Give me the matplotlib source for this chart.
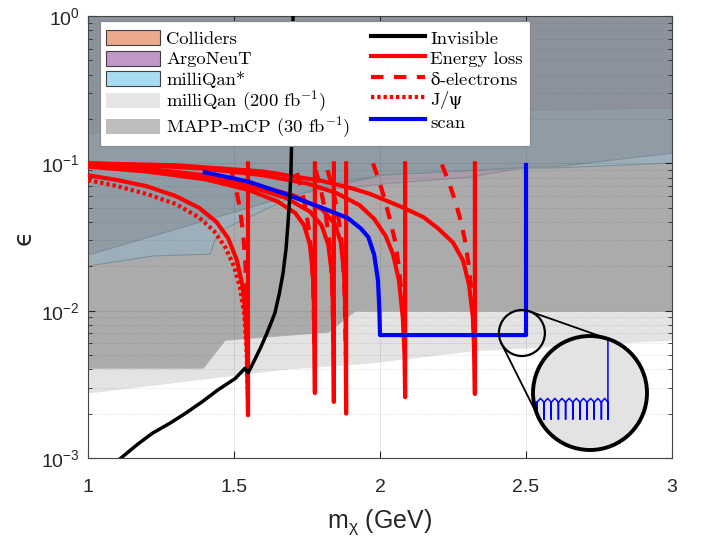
import numpy as np
import matplotlib
matplotlib.use('Agg')
import matplotlib.pyplot as plt
from matplotlib.patches import Patch, Circle, Rectangle
from matplotlib.lines import Line2D
from matplotlib.legend_handler import HandlerPatch
from matplotlib.font_manager import FontProperties

# exclusion regions: lower edge of each shaded region (mass in GeV, epsilon)
top_m = [1.0, 1.384, 2.068, 2.503, 3.0]
top_eps = [0.1606, 0.1737, 0.2030, 0.2301, 0.2374]

coll_m = [1.0, 1.675, 2.010, 2.343, 2.503, 2.593, 3.0]
coll_eps = [0.0239, 0.0590, 0.0833, 0.0901, 0.0944, 0.0944, 0.1174]

mq_m = [1.0, 1.223, 1.418, 1.435, 1.459, 1.675, 1.805, 2.010, 2.343, 2.503, 2.593, 3.0]
mq_eps = [0.0201, 0.0235, 0.0242, 0.0302, 0.0353, 0.0563, 0.0712, 0.0833, 0.0901, 0.0929, 0.0929, 0.1005]

argo_m = [1.0, 1.675, 1.805, 2.010, 2.308, 2.503, 2.593, 3.0]
argo_eps = [0.057, 0.060, 0.0659, 0.0724, 0.0807, 0.0944, 0.0974, 0.1231]

mapp_m = [1.0, 1.394, 1.469, 1.822, 1.914, 3.0]
mapp_eps = [0.00407, 0.00407, 0.00631, 0.00716, 0.00993, 0.0099]

mq200_m = [1.0, 1.675, 1.966, 2.308, 3.0]
mq200_eps = [0.00276, 0.00401, 0.00441, 0.00532, 0.00631]

# invisible
inv_m = [1.113, 1.17, 1.22, 1.28, 1.332, 1.39, 1.445, 1.503, 1.538, 1.548, 1.57, 1.592, 1.615, 1.64,
         1.655, 1.668, 1.678, 1.685, 1.691, 1.695, 1.699, 1.702]
inv_eps = [0.001, 0.00124, 0.00147, 0.00172, 0.002, 0.0024, 0.0029, 0.00345, 0.00407, 0.00377, 0.0046,
           0.00566, 0.0072, 0.00963, 0.013, 0.018, 0.026, 0.0393, 0.06, 0.0859, 0.2, 1.0]

# energy loss (solid)
eloss_m = [
    [1.0, 1.1, 1.2, 1.3, 1.38, 1.44, 1.48, 1.51, 1.53, 1.54, 1.545, 1.548, 1.548],
    [1.0, 1.2, 1.4, 1.55, 1.65, 1.71, 1.74, 1.76, 1.77, 1.775, 1.777, 1.777],
    [1.0, 1.2, 1.4, 1.55, 1.68, 1.76, 1.80, 1.823, 1.835, 1.84, 1.842, 1.842],
    [1.0, 1.2, 1.4, 1.55, 1.7, 1.8, 1.845, 1.866, 1.877, 1.882, 1.884, 1.884],
    [1.0, 1.2, 1.4, 1.6, 1.75, 1.85, 1.93, 1.98, 2.02, 2.045, 2.065, 2.078, 2.084, 2.086, 2.086],
    [1.0, 1.3, 1.6, 1.8, 1.9, 1.966, 2.08, 2.15, 2.2, 2.25, 2.284, 2.305, 2.318, 2.323, 2.325, 2.325],
]
eloss_eps = [
    [0.083, 0.077, 0.070, 0.060, 0.050, 0.040, 0.031, 0.022, 0.0145, 0.009, 0.005, 0.00195, 0.1],
    [0.095, 0.088, 0.078, 0.066, 0.055, 0.046, 0.038, 0.028, 0.018, 0.009, 0.00276, 0.1],
    [0.097, 0.090, 0.080, 0.070, 0.058, 0.047, 0.038, 0.028, 0.018, 0.009, 0.0024, 0.1],
    [0.099, 0.092, 0.083, 0.073, 0.061, 0.049, 0.039, 0.029, 0.018, 0.009, 0.0020, 0.1],
    [0.100, 0.097, 0.092, 0.083, 0.073, 0.063, 0.052, 0.042, 0.032, 0.024, 0.016, 0.009, 0.005, 0.00259, 0.1],
    [0.100, 0.097, 0.088, 0.076, 0.068, 0.062, 0.050, 0.043, 0.036, 0.029, 0.022, 0.015, 0.009, 0.005,
     0.00272, 0.1],
]

# delta electrons (dashed)
delta_m = [
    [1.49, 1.505, 1.52, 1.53, 1.538, 1.543, 1.547],
    [1.716, 1.73, 1.745, 1.757, 1.766, 1.772, 1.776],
    [1.78, 1.795, 1.81, 1.822, 1.831, 1.837, 1.841],
    [1.82, 1.836, 1.852, 1.864, 1.873, 1.879, 1.883],
    [1.976, 1.997, 2.017, 2.035, 2.051, 2.063, 2.074, 2.082],
    [2.212, 2.235, 2.257, 2.276, 2.291, 2.303, 2.314, 2.322],
]
delta_eps = [
    [0.09, 0.07, 0.05, 0.035, 0.023, 0.013, 0.005],
    [0.086, 0.068, 0.05, 0.035, 0.023, 0.013, 0.005],
    [0.09, 0.07, 0.05, 0.035, 0.023, 0.013, 0.005],
    [0.09, 0.07, 0.05, 0.035, 0.023, 0.013, 0.005],
    [0.1, 0.076, 0.056, 0.041, 0.03, 0.021, 0.013, 0.0074],
    [0.098, 0.075, 0.056, 0.041, 0.03, 0.021, 0.013, 0.0074],
]

# J/psi (dotted)
jpsi_m = [1.0, 1.1, 1.2, 1.3, 1.38, 1.43, 1.47, 1.50, 1.52, 1.535, 1.543, 1.548]
jpsi_eps = [0.077, 0.070, 0.062, 0.053, 0.043, 0.035, 0.027, 0.020, 0.0145, 0.0095, 0.0055, 0.0025]

# scan
scan_m = [1.40, 1.55, 1.675, 1.80, 1.89, 1.935, 1.96, 1.98, 1.993, 1.998, 2.0, 2.5, 2.5]
scan_eps = [0.087, 0.075, 0.062, 0.05, 0.0425, 0.036, 0.0316, 0.024, 0.0161, 0.01, 0.00683, 0.00683, 0.0975]

# fine structure of the scan shown in the magnifier
zoom_teeth = [2.391, 2.402, 2.413, 2.424, 2.435, 2.446, 2.457, 2.468, 2.479, 2.490, 2.500]
zoom_level = 0.0068
zoom_bump = 0.0070
zoom_depth = 0.0060

plt.rcParams['font.family'] = ['Liberation Sans', 'DejaVu Sans']
plt.rcParams['mathtext.default'] = 'regular'

fig = plt.figure(figsize=(7.05, 5.41), dpi=100)
ax = fig.add_axes([88/705, 83/541, 584/705, 442/541])
ax.set_yscale('log')

ax.fill_between(mq200_m, mq200_eps, 1, color='#E3E3E3', lw=0, zorder=0.5)
ax.fill_between(mapp_m, mapp_eps, 1, color='#ABABAB', lw=0, zorder=0.6)
ax.fill_between(argo_m, argo_eps, 1, color='#A99CA9', lw=0, zorder=0.7)
ax.fill_between(mq_m, mq_eps, 1, color='#9DB0B9', lw=0, zorder=0.8)
ax.fill_between(coll_m, coll_eps, 1, color='#8F9CA6', lw=0, zorder=0.9)
ax.fill_between(top_m, top_eps, 1, color='#8C929B', lw=0, zorder=0.95)
ax.plot(mq_m, mq_eps, color='#7D8C96', lw=0.7, zorder=0.96)
ax.plot(coll_m, coll_eps, color='#7D8C96', lw=0.7, zorder=0.97)
ax.plot(argo_m, argo_eps, color='#8E8A96', lw=0.7, zorder=0.75)
ax.plot(top_m, top_eps, color='#848B94', lw=0.6, zorder=0.98)

for m, e in zip(eloss_m, eloss_eps):
    ax.plot(m, e, color='red', lw=3, zorder=3)
for m, e in zip(delta_m, delta_eps):
    ax.plot(m, e, color='red', lw=3, dashes=(3, 2.5), zorder=3)
ax.plot(jpsi_m, jpsi_eps, color='red', lw=3, ls=(0, (0.8, 0.7)), zorder=3)
ax.plot(scan_m, scan_eps, color='blue', lw=3, zorder=3.5)
ax.plot(inv_m, inv_eps, color='black', lw=2.5, zorder=4)

ax.set_xlim(1, 3)
ax.set_ylim(1e-3, 1)
ax.set_xticks([1, 1.5, 2, 2.5, 3])
ax.set_xticklabels(['1', '1.5', '2', '2.5', '3'])
ax.set_yticks([1e-3, 1e-2, 1e-1, 1])
ax.set_yticklabels(['$10^{-3}$', '$10^{-2}$', '$10^{-1}$', '$10^{0}$'])
ax.tick_params(which='both', direction='in', top=True, right=True, colors='#262626', labelsize=14)
ax.tick_params(axis='x', pad=15)
ax.tick_params(axis='y', pad=6)
ax.tick_params(which='major', length=5)
ax.tick_params(which='minor', length=3)
ax.grid(True, which='major', color='#262626', alpha=0.12, lw=0.6)
ax.grid(True, which='minor', axis='y', color='#262626', alpha=0.2, lw=0.6, ls=':')
for s in ax.spines.values():
    s.set_color('#444444')
    s.set_linewidth(0.8)

ax.set_xlabel(r'm$_{\chi}$ (GeV)', fontsize=18, color='#262626', labelpad=8)
ax.set_ylabel('ϵ', fontsize=18, color='#262626', family=['DejaVu Sans'])


def short_patch(legend, orig_handle, xdescent, ydescent, width, height, fontsize):
    h = 0.74 * height
    return Rectangle((-xdescent, -ydescent + (height - h) / 2), width, h)


handles = [
    Patch(facecolor='#EDA98B', edgecolor='#404040', lw=0.8),
    Patch(facecolor='#C197C9', edgecolor='#404040', lw=0.8),
    Patch(facecolor='#A8DDF1', edgecolor='#404040', lw=0.8),
    Patch(facecolor='#E5E5E5', edgecolor='none'),
    Patch(facecolor='#BEBEBE', edgecolor='none'),
    Line2D([], [], color='black', lw=3),
    Line2D([], [], color='red', lw=3),
    Line2D([], [], color='red', lw=3, dashes=(3, 2.5)),
    Line2D([], [], color='red', lw=3, ls=(0, (0.8, 0.7))),
    Line2D([], [], color='blue', lw=3),
]
labels = ['Colliders', 'ArgoNeuT', 'milliQan*', r'milliQan (200 fb$^{-1}$)', r'MAPP-mCP (30 fb$^{-1}$)',
          'Invisible', 'Energy loss', r'$\delta$-electrons', r'J$/\psi$', 'scan']
lp = FontProperties(family='cmr10', size=13.4, math_fontfamily='cm')
leg = ax.legend(handles, labels, ncol=2, loc='upper left', bbox_to_anchor=(0.0205, 0.9887),
                borderaxespad=0, prop=lp, handlelength=2.9, handleheight=1.31, handletextpad=0.3,
                columnspacing=1.1, labelspacing=0.0, borderpad=0.35, fancybox=False, framealpha=1,
                handler_map={Patch: HandlerPatch(patch_func=short_patch)})
leg.get_frame().set_edgecolor('#888888')
leg.get_frame().set_linewidth(0.8)
leg.set_zorder(10)

# magnifier on the corner of the scan
fig.canvas.draw()
small_c = ax.transData.transform((2.486, 0.00705)) / fig.dpi
small_r = 0.23
big_c = np.array([5.90, (541 - 393) / 100])
big_r = 0.57
ax_in = fig.add_axes([(big_c[0] - big_r) / 7.05, (big_c[1] - big_r) / 5.41, 2 * big_r / 7.05, 2 * big_r / 5.41])
ax_in.set_yscale('log')
ax_in.set_xlim(2.385, 2.56)
ax_in.set_ylim(0.00478, 0.0111)
ax_in.axis('off')
disk = Circle((0.5, 0.5), 0.5, transform=ax_in.transAxes, facecolor='#E3E3E3', edgecolor='none', zorder=1)
ax_in.add_patch(disk)
zx, zy = [2.385], [zoom_level]
for i, t in enumerate(zoom_teeth):
    zx += [t, t, t]
    zy += [zoom_level, zoom_depth, zoom_level]
    if i + 1 < len(zoom_teeth):
        zx.append((t + zoom_teeth[i + 1]) / 2)
        zy.append(zoom_bump)
zx.append(zoom_teeth[-1])
zy.append(0.0111)
zl, = ax_in.plot(zx, zy, color='blue', lw=1.1, zorder=2)
zl.set_clip_path(disk)
ax_in.add_patch(Circle((0.5, 0.5), 0.5, transform=ax_in.transAxes, facecolor='none',
                       edgecolor='black', lw=2.8, zorder=3, clip_on=False))
fig.add_artist(Circle(small_c, small_r, transform=fig.dpi_scale_trans, facecolor='none',
                      edgecolor='black', lw=1.6, zorder=20))
d = big_c - small_c
D = np.hypot(*d)
base = np.arctan2(d[1], d[0])
phi = np.arccos((big_r - small_r) / D)
for s in (1, -1):
    n = np.array([np.cos(base + s * phi), np.sin(base + s * phi)])
    p1 = small_c - small_r * n
    p2 = big_c - big_r * n
    fig.add_artist(Line2D([p1[0], p2[0]], [p1[1], p2[1]], transform=fig.dpi_scale_trans,
                          color='black', lw=1.3, zorder=20))

fig.savefig('out.png', dpi=100)
